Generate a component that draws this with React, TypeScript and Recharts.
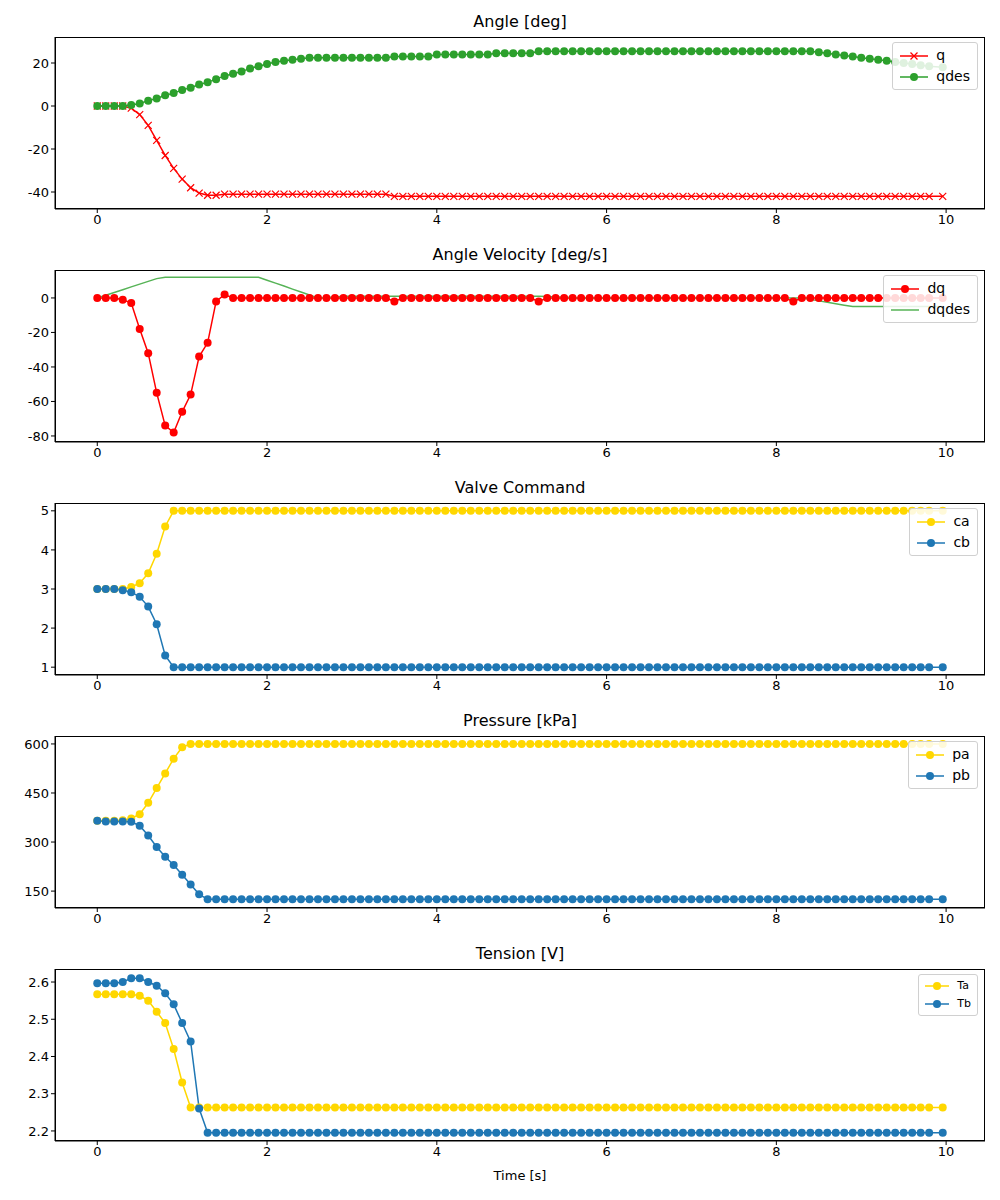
import React from 'react';
import { LineChart, Line, XAxis, YAxis } from 'recharts';

const time = [
  0, 0.1, 0.2, 0.3, 0.4, 0.5, 0.6, 0.7, 0.8, 0.9, 1, 1.1, 1.2, 1.3, 1.4, 1.5, 1.6, 1.7, 1.8, 1.9,
  2, 2.1, 2.2, 2.3, 2.4, 2.5, 2.6, 2.7, 2.8, 2.9, 3, 3.1, 3.2, 3.3, 3.4, 3.5, 3.6, 3.7, 3.8, 3.9,
  4, 4.1, 4.2, 4.3, 4.4, 4.5, 4.6, 4.7, 4.8, 4.9, 5, 5.1, 5.2, 5.3, 5.4, 5.5, 5.6, 5.7, 5.8, 5.9,
  6, 6.1, 6.2, 6.3, 6.4, 6.5, 6.6, 6.7, 6.8, 6.9, 7, 7.1, 7.2, 7.3, 7.4, 7.5, 7.6, 7.7, 7.8, 7.9,
  8, 8.1, 8.2, 8.3, 8.4, 8.5, 8.6, 8.7, 8.8, 8.9, 9, 9.1, 9.2, 9.3, 9.4, 9.5, 9.6, 9.7, 9.8, 9.96,
];

const q = [
  0, 0, 0, 0, -1, -4, -9, -16, -23, -29, -34, -38, -40.5, -41.5, -41.5, -41, -41, -41, -41, -41,
  -41, -41, -41, -41, -41, -41, -41, -41, -41, -41, -41, -41, -41, -41, -41, -42, -42, -42, -42, -42,
  -42, -42, -42, -42, -42, -42, -42, -42, -42, -42, -42, -42, -42, -42, -42, -42, -42, -42, -42, -42,
  -42, -42, -42, -42, -42, -42, -42, -42, -42, -42, -42, -42, -42, -42, -42, -42, -42, -42, -42, -42,
  -42, -42, -42, -42, -42, -42, -42, -42, -42, -42, -42, -42, -42, -42, -42, -42, -42, -42, -42, -42,
];
const qdes = [
  0, 0, 0, 0, 0.5, 1.2, 2.5, 3.5, 5, 6, 7.5, 8.5, 10, 11, 12.5, 14, 15, 16, 17.5, 18.5,
  19.5, 20.5, 21, 21.5, 22, 22.5, 22.5, 22.5, 22.5, 22.5, 22.5, 22.5, 22.5, 22.5, 22.5, 23, 23, 23, 23, 23,
  24, 24, 24, 24, 24, 24, 24, 24.5, 24.5, 24.5, 24.5, 24.5, 25.5, 25.5, 25.5, 25.5, 25.5, 25.5, 25.5, 25.5,
  25.5, 25.5, 25.5, 25.5, 25.5, 25.5, 25.5, 25.5, 25.5, 25.5, 25.5, 25.5, 25.5, 25.5, 25.5, 25.5, 25.5, 25.5, 25.5, 25.5,
  25.5, 25.5, 25.5, 25.5, 25.5, 25, 24.5, 24, 23.5, 23, 22.5, 22, 21.5, 21, 20.5, 20, 19.5, 19, 18.5, 18,
];
const dq = [
  0, 0, 0, -1, -3, -18, -32, -55, -74, -78, -66, -56, -34, -26, -2, 2, 0, 0, 0, 0,
  0, 0, 0, 0, 0, 0, 0, 0, 0, 0, 0, 0, 0, 0, 0, -2, 0, 0, 0, 0,
  0, 0, 0, 0, 0, 0, 0, 0, 0, 0, 0, 0, -2, 0, 0, 0, 0, 0, 0, 0,
  0, 0, 0, 0, 0, 0, 0, 0, 0, 0, 0, 0, 0, 0, 0, 0, 0, 0, 0, 0,
  0, 0, -2, 0, 0, 0, 0, 0, 0, 0, 0, 0, 0, 0, 0, 0, 0, 0, 0, 0,
];
const dqdes = [
  0, 1.6, 3.2, 4.8, 6.4, 8, 9.6, 11.2, 12, 12, 12, 12, 12, 12, 12, 12, 12, 12, 12, 12,
  10.3, 8.6, 6.9, 5.1, 3.4, 1.7, 0, 0.3, 0.6, 1, 1, 1, 1, 1, 1, 1, 1, 1, 1, 1,
  1, 1, 1, 1, 1, 1, 1, 1, 1, 1, 1, 1, 1, 0.8, 0.6, 0.4, 0.2, 0, 0, 0,
  0, 0, 0, 0, 0, 0, 0, 0, 0, 0, 0, 0, 0, 0, 0, 0, 0, 0, 0, 0,
  0, 0, 0, 0, -0.8, -1.7, -2.5, -3.3, -4.2, -5, -5, -5, -5, -5, -5, -5, -5, -5, -5, -5,
];
const ca = [
  3, 3, 3, 3, 3.05, 3.15, 3.4, 3.9, 4.6, 5, 5, 5, 5, 5, 5, 5, 5, 5, 5, 5,
  5, 5, 5, 5, 5, 5, 5, 5, 5, 5, 5, 5, 5, 5, 5, 5, 5, 5, 5, 5,
  5, 5, 5, 5, 5, 5, 5, 5, 5, 5, 5, 5, 5, 5, 5, 5, 5, 5, 5, 5,
  5, 5, 5, 5, 5, 5, 5, 5, 5, 5, 5, 5, 5, 5, 5, 5, 5, 5, 5, 5,
  5, 5, 5, 5, 5, 5, 5, 5, 5, 5, 5, 5, 5, 5, 5, 5, 5, 5, 5, 5,
];
const cb = [
  3, 3, 3, 2.97, 2.92, 2.8, 2.55, 2.1, 1.3, 1, 1, 1, 1, 1, 1, 1, 1, 1, 1, 1,
  1, 1, 1, 1, 1, 1, 1, 1, 1, 1, 1, 1, 1, 1, 1, 1, 1, 1, 1, 1,
  1, 1, 1, 1, 1, 1, 1, 1, 1, 1, 1, 1, 1, 1, 1, 1, 1, 1, 1, 1,
  1, 1, 1, 1, 1, 1, 1, 1, 1, 1, 1, 1, 1, 1, 1, 1, 1, 1, 1, 1,
  1, 1, 1, 1, 1, 1, 1, 1, 1, 1, 1, 1, 1, 1, 1, 1, 1, 1, 1, 1,
];
const pa = [
  365, 365, 365, 367, 372, 385, 420, 465, 510, 555, 590, 600, 600, 600, 600, 600, 600, 600, 600, 600,
  600, 600, 600, 600, 600, 600, 600, 600, 600, 600, 600, 600, 600, 600, 600, 600, 600, 600, 600, 600,
  600, 600, 600, 600, 600, 600, 600, 600, 600, 600, 600, 600, 600, 600, 600, 600, 600, 600, 600, 600,
  600, 600, 600, 600, 600, 600, 600, 600, 600, 600, 600, 600, 600, 600, 600, 600, 600, 600, 600, 600,
  600, 600, 600, 600, 600, 600, 600, 600, 600, 600, 600, 600, 600, 600, 600, 600, 600, 600, 600, 600,
];
const pb = [
  365, 363, 363, 363, 362, 350, 320, 285, 255, 230, 200, 170, 140, 125, 125, 125, 125, 125, 125, 125,
  125, 125, 125, 125, 125, 125, 125, 125, 125, 125, 125, 125, 125, 125, 125, 125, 125, 125, 125, 125,
  125, 125, 125, 125, 125, 125, 125, 125, 125, 125, 125, 125, 125, 125, 125, 125, 125, 125, 125, 125,
  125, 125, 125, 125, 125, 125, 125, 125, 125, 125, 125, 125, 125, 125, 125, 125, 125, 125, 125, 125,
  125, 125, 125, 125, 125, 125, 125, 125, 125, 125, 125, 125, 125, 125, 125, 125, 125, 125, 125, 125,
];
const Ta = [
  2.567, 2.567, 2.567, 2.567, 2.567, 2.563, 2.55, 2.52, 2.49, 2.42, 2.33, 2.263, 2.263, 2.263, 2.263, 2.263, 2.263, 2.263, 2.263, 2.263,
  2.263, 2.263, 2.263, 2.263, 2.263, 2.263, 2.263, 2.263, 2.263, 2.263, 2.263, 2.263, 2.263, 2.263, 2.263, 2.263, 2.263, 2.263, 2.263, 2.263,
  2.263, 2.263, 2.263, 2.263, 2.263, 2.263, 2.263, 2.263, 2.263, 2.263, 2.263, 2.263, 2.263, 2.263, 2.263, 2.263, 2.263, 2.263, 2.263, 2.263,
  2.263, 2.263, 2.263, 2.263, 2.263, 2.263, 2.263, 2.263, 2.263, 2.263, 2.263, 2.263, 2.263, 2.263, 2.263, 2.263, 2.263, 2.263, 2.263, 2.263,
  2.263, 2.263, 2.263, 2.263, 2.263, 2.263, 2.263, 2.263, 2.263, 2.263, 2.263, 2.263, 2.263, 2.263, 2.263, 2.263, 2.263, 2.263, 2.263, 2.263,
];
const Tb = [
  2.597, 2.597, 2.597, 2.6, 2.61, 2.61, 2.6, 2.59, 2.57, 2.54, 2.49, 2.44, 2.26, 2.195, 2.195, 2.195, 2.195, 2.195, 2.195, 2.195,
  2.195, 2.195, 2.195, 2.195, 2.195, 2.195, 2.195, 2.195, 2.195, 2.195, 2.195, 2.195, 2.195, 2.195, 2.195, 2.195, 2.195, 2.195, 2.195, 2.195,
  2.195, 2.195, 2.195, 2.195, 2.195, 2.195, 2.195, 2.195, 2.195, 2.195, 2.195, 2.195, 2.195, 2.195, 2.195, 2.195, 2.195, 2.195, 2.195, 2.195,
  2.195, 2.195, 2.195, 2.195, 2.195, 2.195, 2.195, 2.195, 2.195, 2.195, 2.195, 2.195, 2.195, 2.195, 2.195, 2.195, 2.195, 2.195, 2.195, 2.195,
  2.195, 2.195, 2.195, 2.195, 2.195, 2.195, 2.195, 2.195, 2.195, 2.195, 2.195, 2.195, 2.195, 2.195, 2.195, 2.195, 2.195, 2.195, 2.195, 2.195,
];

const xTicks = [0, 2, 4, 6, 8, 10];
const RED = '#ff0000';
const GREEN = '#2ca02c';
const GOLD = '#ffd700';
const BLUE = '#1f77b4';
const FONT = '"DejaVu Sans", sans-serif';

const data = time.map((t, i) => ({
  t, q: q[i], qdes: qdes[i], dq: dq[i], dqdes: dqdes[i],
  ca: ca[i], cb: cb[i], pa: pa[i], pb: pb[i], Ta: Ta[i], Tb: Tb[i],
}));

const XDot = (props: any) => {
  const { cx, cy, stroke } = props;
  if (cx == null || cy == null) return null;
  const s = 3.5;
  return (
    <path d={`M${cx - s},${cy - s}L${cx + s},${cy + s}M${cx - s},${cy + s}L${cx + s},${cy - s}`} stroke={stroke} strokeWidth={1.2} />
  );
};

type SeriesDef = { key: string; color: string; marker: 'o' | 'x' | 'none' };
type LegendItem = { label: string; color: string; marker: 'o' | 'x' | 'none' };

const LegendBox = ({ items, small }: { items: LegendItem[]; small?: boolean }) => (
  <div style={{
    position: 'absolute', right: 22, top: 42, background: 'rgba(255,255,255,0.85)',
    border: '1px solid #d0d0d0', borderRadius: 3, padding: small ? '2px 6px' : '2px 7px',
    fontFamily: FONT, fontSize: small ? 11 : 14, lineHeight: small ? '18px' : '21px',
  }}>
    {items.map((it) => (
      <div key={it.label} style={{ display: 'flex', alignItems: 'center' }}>
        <svg width={small ? 24 : 28} height={12} style={{ marginRight: 8 }}>
          <line x1={0} y1={6} x2={small ? 24 : 28} y2={6} stroke={it.color} strokeWidth={1.5} />
          {it.marker === 'o' && <circle cx={small ? 12 : 14} cy={6} r={4} fill={it.color} />}
          {it.marker === 'x' && (
            <path d="M10.5,2.5L17.5,9.5M10.5,9.5L17.5,2.5" stroke={it.color} strokeWidth={1.3} />
          )}
        </svg>
        <span>{it.label}</span>
      </div>
    ))}
  </div>
);

const Panel = ({ title, series, domain, ticks, height, small, xLabel }: {
  title: string; series: SeriesDef[]; domain: [number, number]; ticks: number[];
  height: number; small?: boolean; xLabel?: string;
}) => (
  <div style={{ position: 'relative', width: 1000, height }}>
    <div style={{
      position: 'absolute', left: 55, width: 930, top: 12, textAlign: 'center',
      fontFamily: FONT, fontSize: 16,
    }}>{title}</div>
    <LineChart width={1000} height={height} data={data} margin={{ top: 37, right: 15, bottom: 0, left: 10 }}>
      <XAxis
        dataKey="t" type="number" domain={[-0.498, 10.458]} ticks={xTicks} allowDataOverflow
        tick={{ fill: '#000', fontSize: 13, fontFamily: FONT }} tickLine={{ stroke: '#000' }}
        axisLine={{ stroke: '#000' }} tickSize={4} height={xLabel ? 59 : 24}
        label={xLabel ? { value: xLabel, position: 'insideTop', offset: 30, fill: '#000', fontSize: 13, fontFamily: FONT } : undefined}
      />
      <YAxis
        type="number" domain={domain} ticks={ticks} allowDataOverflow width={45}
        tick={{ fill: '#000', fontSize: 13, fontFamily: FONT }} tickLine={{ stroke: '#000' }}
        axisLine={{ stroke: '#000' }} tickSize={4}
      />
      {series.map((s) => (
        <Line
          key={s.key} dataKey={s.key} stroke={s.color} strokeWidth={1.5} isAnimationActive={false}
          dot={s.marker === 'o' ? { r: 4, fill: s.color, stroke: s.color, strokeWidth: 0 } : s.marker === 'x' ? <XDot /> : false}
          activeDot={false}
        />
      ))}
    </LineChart>
    <div style={{
      position: 'absolute', left: 55, top: 37, width: 930, height: height - 37 - (xLabel ? 59 : 24),
      border: '1px solid #000', boxSizing: 'border-box', pointerEvents: 'none',
    }} />
    <LegendBox small={small} items={series.map((s) => ({ label: s.key, color: s.color, marker: s.marker }))} />
  </div>
);

export default function App() {
  return (
    <div style={{ margin: -8, width: 1000, height: 1200, background: '#fff' }}>
      <Panel title="Angle [deg]" height={233} domain={[-47.9, 32.1]} ticks={[-40, -20, 0, 20]}
        series={[{ key: 'q', color: RED, marker: 'x' }, { key: 'qdes', color: GREEN, marker: 'o' }]} />
      <Panel title="Angle Velocity [deg/s]" height={233} domain={[-83.5, 16.2]} ticks={[-80, -60, -40, -20, 0]}
        series={[{ key: 'dq', color: RED, marker: 'o' }, { key: 'dqdes', color: '#56b356', marker: 'none' }]} />
      <Panel title="Valve Command" height={233} domain={[0.8, 5.2]} ticks={[1, 2, 3, 4, 5]}
        series={[{ key: 'ca', color: GOLD, marker: 'o' }, { key: 'cb', color: BLUE, marker: 'o' }]} />
      <Panel title="Pressure [kPa]" height={233} domain={[98.3, 624.3]} ticks={[150, 300, 450, 600]}
        series={[{ key: 'pa', color: GOLD, marker: 'o' }, { key: 'pb', color: BLUE, marker: 'o' }]} />
      <Panel title="Tension [V]" height={268} domain={[2.173, 2.635]} ticks={[2.2, 2.3, 2.4, 2.5, 2.6]} small xLabel="Time [s]"
        series={[{ key: 'Ta', color: GOLD, marker: 'o' }, { key: 'Tb', color: BLUE, marker: 'o' }]} />
    </div>
  );
}
